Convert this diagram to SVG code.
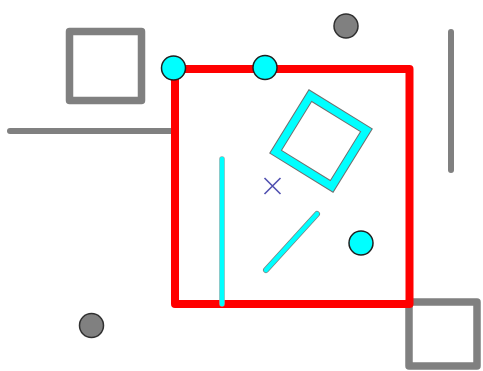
<svg xmlns="http://www.w3.org/2000/svg" width="483" height="371" viewBox="0 0 483 371">
<style>
.gsq{fill:none;stroke:#808080;stroke-width:7.5;stroke-linejoin:round}
.gline{stroke:#808080;stroke-width:6;stroke-linecap:round}
.gdot{fill:#808080;stroke:#303030;stroke-width:1.5}
.cdot{fill:#00ffff;stroke:#202020;stroke-width:1.5}
.cyanO{fill:none;stroke:#707070;stroke-width:9.5;stroke-linejoin:miter}
.cyanI{fill:none;stroke:#00ffff;stroke-width:7.5;stroke-linejoin:miter}
</style>
<rect width="483" height="371" fill="#ffffff"/>
<g id="gray-square-tl"><rect class="gsq" x="69.5" y="31.5" width="72" height="69"/></g>
<g id="gray-line-h"><line class="gline" x1="10" y1="131" x2="176" y2="131"/></g>
<g id="gray-line-v"><line class="gline" x1="451" y1="32" x2="451" y2="170"/></g>
<g id="gray-square-br"><rect class="gsq" x="409" y="302" width="68" height="64"/></g>
<g id="red-rect"><rect x="175" y="69" width="234.5" height="235" fill="none" stroke="#ff0000" stroke-width="8" stroke-linejoin="round"/></g>
<g id="cyan-square">
<polygon class="cyanO" points="310.3,95.6 366.4,130.3 331.7,186.4 275.6,151.7"/>
<polygon class="cyanI" points="310.3,95.6 366.4,130.3 331.7,186.4 275.6,151.7"/>
</g>
<g id="cyan-diag">
<line x1="266" y1="270" x2="317" y2="214" stroke="#808080" stroke-width="6" stroke-linecap="round"/>
<line x1="266" y1="270" x2="317" y2="214" stroke="#00ffff" stroke-width="4.5" stroke-linecap="round"/>
</g>
<g id="cyan-vline">
<line x1="222" y1="159" x2="222" y2="304" stroke="#a0a0a0" stroke-width="5.5" stroke-linecap="round"/>
<line x1="222" y1="159" x2="222" y2="304" stroke="#00ffff" stroke-width="4.5" stroke-linecap="round"/>
</g>
<g id="cross"><path d="M264.5,178 L280.5,194 M280.5,178 L264.5,194" stroke="#5050b0" stroke-width="1.6" fill="none"/></g>
<g id="gray-dot-top"><circle class="gdot" cx="346" cy="26" r="12"/></g>
<g id="gray-dot-bl"><circle class="gdot" cx="91.5" cy="325.5" r="12"/></g>
<g id="cyan-dot-1"><circle class="cdot" cx="173.5" cy="68" r="12"/></g>
<g id="cyan-dot-2"><circle class="cdot" cx="265" cy="67.5" r="12"/></g>
<g id="cyan-dot-3"><circle class="cdot" cx="361" cy="243" r="12"/></g>
</svg>
